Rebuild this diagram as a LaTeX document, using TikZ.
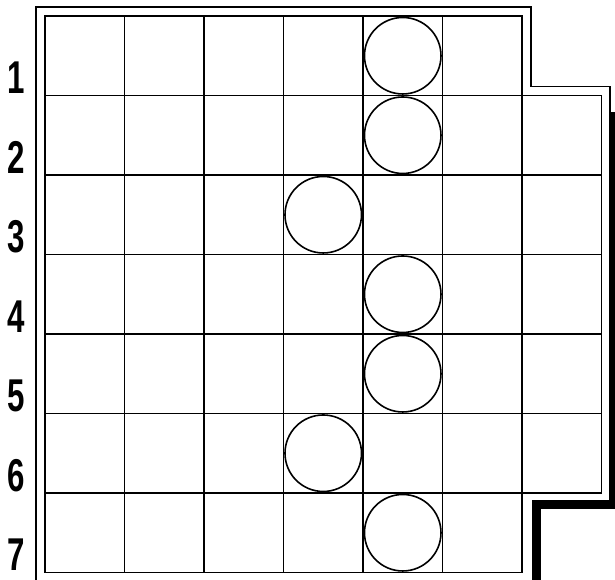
\documentclass[tikz,border=0pt]{standalone}
\usepackage{fontspec}
\newfontfamily\rowfont{Liberation Sans}
\tikzset{
  gridline/.style={line width=1.6pt,black},
  frame/.style={line width=1.6pt,black,line join=miter},
  shadowline/.style={line width=7pt,black,line join=miter},
  piece/.style={circle,draw,line width=1.6pt,minimum size=76.5pt,inner sep=0pt},
  rowlabel/.style={font=\rowfont\bfseries\fontsize{46}{46}\selectfont,
    anchor=base east,inner sep=0pt}
}

\begin{document}
\begin{tikzpicture}[x=79.5pt,y=-79.5pt]
  \clip (-0.566,-0.201) rectangle (7.170,7.094);
  % outer frame and its shadow
  \draw[shadowline] (7.164,1.208) -- (7.164,6.157) -- (6.201,6.157) -- (6.201,7.3);
  \draw[frame] (-0.113,-0.113) -- (6.113,-0.113) -- (6.113,0.887) -- (7.11,0.887)
    -- (7.11,6.1) -- (6.14,6.1) -- (6.14,7.113) -- (-0.113,7.113) -- cycle;
  % board
  \draw[gridline] (0,0) -- (6,0) -- (6,1) -- (7,1) -- (7,6) -- (6,6) -- (6,7) -- (0,7) -- cycle;
  \foreach \r in {1,...,6}
    \draw[gridline] (0,\r) -- (7,\r);
  \foreach \c in {1,...,6}
    \draw[gridline] (\c,0) -- (\c,7);
  % row numbers
  \foreach \r in {1,...,7}
    \node[rowlabel] (row\r) at (-0.25,\r-0.02) {\scalebox{0.68}[1]{\r}};
  % pieces
  \foreach \c/\r [count=\i] in {4/0,4/1,3/2,4/3,4/4,3/5,4/6}
    \node[piece] (piece\i) at (\c+0.5,\r+0.5) {};
\end{tikzpicture}
\end{document}
